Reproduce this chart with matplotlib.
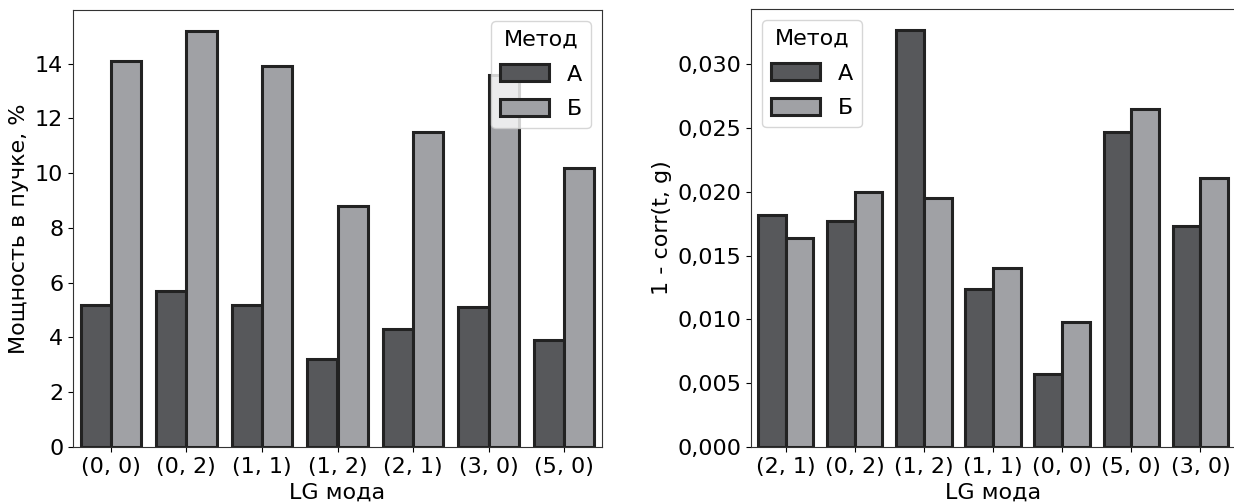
import numpy as np
import matplotlib
matplotlib.use("Agg")
import matplotlib.pyplot as plt
from matplotlib.ticker import FuncFormatter

# data
modes_left = ["(0, 0)", "(0, 2)", "(1, 1)", "(1, 2)", "(2, 1)", "(3, 0)", "(5, 0)"]
power_a = [5.2, 5.7, 5.2, 3.2, 4.3, 5.1, 3.9]
power_b = [14.1, 15.2, 13.9, 8.8, 11.5, 13.6, 10.2]

modes_right = ["(2, 1)", "(0, 2)", "(1, 2)", "(1, 1)", "(0, 0)", "(5, 0)", "(3, 0)"]
corr_a = [0.0182, 0.0177, 0.0327, 0.0124, 0.0057, 0.0247, 0.0173]
corr_b = [0.0164, 0.0200, 0.0195, 0.0140, 0.0098, 0.0265, 0.0211]

methods = ["А", "Б"]
colors = ["#57585b", "#a0a1a5"]
edge = "#222222"
fs = 16

plt.rcParams["font.family"] = "DejaVu Sans"
plt.rcParams["axes.edgecolor"] = "#333333"

fig = plt.figure(figsize=(12.34, 5.04), dpi=100)
ax1 = fig.add_axes([73 / 1234, 57 / 504, 529 / 1234, 437 / 504])
ax2 = fig.add_axes([751 / 1234, 57 / 504, 484 / 1234, 438 / 504])


def draw(ax, cats, a, b, loc):
    x = np.arange(len(cats))
    w = 0.4
    ax.bar(x - w / 2, a, w, color=colors[0], edgecolor=edge, linewidth=2.2, label=methods[0])
    ax.bar(x + w / 2, b, w, color=colors[1], edgecolor=edge, linewidth=2.2, label=methods[1])
    ax.set_xlim(-0.5, len(cats) - 0.5)
    ax.set_xticks(x)
    ax.set_xticklabels(cats, fontsize=fs)
    ax.tick_params(axis="y", labelsize=fs)
    ax.set_xlabel("LG мода", fontsize=fs)
    leg = ax.legend(title="Метод", loc=loc, fontsize=fs, title_fontsize=fs,
                    handlelength=2.2, handleheight=0.8, labelspacing=0.65)
    return leg


draw(ax1, modes_left, power_a, power_b, "upper right")
ax1.set_ylabel("Мощность в пучке, %", fontsize=fs)
ax1.set_yticks(np.arange(0, 15, 2))

draw(ax2, modes_right, corr_a, corr_b, "upper left")
ax2.set_ylabel("1 - corr(t, g)", fontsize=fs)
ax2.set_yticks(np.arange(0, 0.031, 0.005))
ax2.yaxis.set_major_formatter(FuncFormatter(lambda v, p: f"{v:.3f}".replace(".", ",")))

fig.savefig("out.png", dpi=100)
